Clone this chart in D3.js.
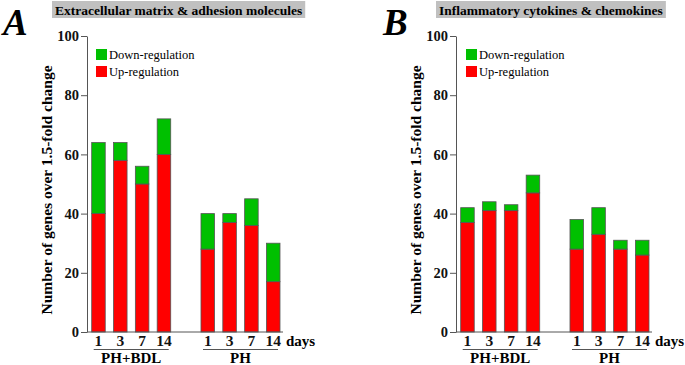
<!DOCTYPE html>
<html>
<head>
<meta charset="utf-8">
<script src="https://cdn.jsdelivr.net/npm/d3@7"></script>
<style>
    body { margin: 0; background: #fff; }
</style>
</head>
<body>
<div id="chart"></div>
<script>
// ---- data ----
const days = ["1", "3", "7", "14"];
const groups = ["PH+BDL", "PH"];
const seriesNames = ["Down-regulation", "Up-regulation"];
const yTicks = [0, 20, 40, 60, 80, 100];

// panel A : extracellular matrix & adhesion molecules (PH+BDL 1,3,7,14 then PH 1,3,7,14)
const ecmUp = [40, 58, 50, 60, 28, 37, 36, 17];
const ecmDown = [24, 6, 6, 12, 12, 3, 9, 13];

// panel B : inflammatory cytokines & chemokines
const inflUp = [37, 41, 41, 47, 28, 33, 28, 26];
const inflDown = [5, 3, 2, 6, 10, 9, 3, 5];

const colors = { up: "#ff0000", down: "#00c000" };
const FONT = "'Liberation Serif', 'Times New Roman', Times, serif";

const svg = d3.select("#chart").append("svg")
    .attr("width", 685)
    .attr("height", 365)
    .style("font-family", FONT);

function drawPanel(opts) {
    let g = svg.append("g").attr("transform", "translate(" + opts.left + ",0)");

    let y0 = 332, yTop = 36;

    let y = d3.scaleLinear().domain([0, 100]).range([y0, yTop]);

    // outer scale for the two treatment groups, inner for the days
    let x0 = d3.scaleBand().domain(groups).range([4.7, 193]).paddingInner(0.277).paddingOuter(0);
    let x1 = d3.scaleBand().domain(days).range([0, x0.bandwidth()]).paddingInner(0.38).paddingOuter(0);

    // rows for stacking
    let rows = [];
    groups.forEach((grp, gi) => {
        days.forEach((d, di) => {
            let i = gi * days.length + di;
            rows.push({ group: grp, day: d, up: opts.up[i], down: opts.down[i] });
        });
    });
    let stack = d3.stack().keys(["up", "down"])(rows);

    // panel letter
    g.append("text")
        .attr("x", opts.letterX)
        .attr("y", 35)
        .style("font-size", "37px")
        .style("font-weight", "bold")
        .style("font-style", "italic")
        .text(opts.letter);

    // title with grey box
    let title = g.append("g");
    let titleText = title.append("text")
        .attr("x", opts.titleX + 3)
        .attr("y", 14.5)
        .style("font-size", "13.5px")
        .style("font-weight", "bold")
        .text(opts.title);
    let tw = titleText.node().getComputedTextLength();
    title.insert("rect", "text")
        .attr("x", opts.titleX)
        .attr("y", 1)
        .attr("width", tw + 6)
        .attr("height", 17)
        .attr("fill", "#c0c0c0");

    // y axis
    let yAxis = g.append("g")
        .call(d3.axisLeft(y).tickValues(yTicks).tickSize(6).tickSizeOuter(0).tickPadding(2))
        .attr("font-family", null);
    yAxis.selectAll("path, line").attr("stroke", "#555");
    yAxis.selectAll("text")
        .style("font-size", "14.5px")
        .style("font-weight", "bold")
        .attr("fill", "#111");

    // y title
    g.append("text")
        .attr("transform", "translate(-35," + 190 + ") rotate(-90)")
        .attr("text-anchor", "middle")
        .style("font-size", "15.5px")
        .style("font-weight", "bold")
        .text("Number of genes over 1.5-fold change");

    // bars
    g.selectAll(".layer")
        .data(stack)
        .join("g")
        .attr("class", "layer")
        .attr("fill", d => d.key === "up" ? colors.up : colors.down)
        .selectAll("rect")
        .data(d => d)
        .join("rect")
        .attr("x", d => x0(d.data.group) + x1(d.data.day))
        .attr("y", d => y(d[1]))
        .attr("width", x1.bandwidth())
        .attr("height", d => y(d[0]) - y(d[1]))
        .attr("stroke", "#555")
        .attr("stroke-width", 0.8);

    // x base line
    g.append("line")
        .attr("x1", 0).attr("x2", 196)
        .attr("y1", y0).attr("y2", y0)
        .attr("stroke", "#555");

    // day labels per group
    groups.forEach(grp => {
        let gx = g.append("g")
            .attr("transform", "translate(" + x0(grp) + "," + y0 + ")")
            .call(d3.axisBottom(x1).tickSize(0).tickPadding(3))
            .attr("font-family", null);
        gx.select(".domain").remove();
        gx.selectAll("text")
            .style("font-size", "15.5px")
            .style("font-weight", "bold")
            .attr("fill", "#111");

        g.append("line")
            .attr("x1", x0(grp) + 2)
            .attr("x2", x0(grp) + x0.bandwidth() - 2)
            .attr("y1", 349.5).attr("y2", 349.5)
            .attr("stroke", "#555");

        g.append("text")
            .attr("x", x0(grp) + x0.bandwidth() / 2)
            .attr("y", 363)
            .attr("text-anchor", "middle")
            .style("font-size", "15px")
            .style("font-weight", "bold")
            .text(grp);
    });

    g.append("text")
        .attr("x", 199)
        .attr("y", 346)
        .style("font-size", "15px")
        .style("font-weight", "bold")
        .text("days");

    // legend
    let legend = g.selectAll(".legend")
        .data(seriesNames)
        .join("g")
        .attr("class", "legend")
        .attr("transform", (d, i) => "translate(" + opts.legendX + "," + (49 + i * 17) + ")");
    legend.append("rect")
        .attr("width", 11).attr("height", 11)
        .attr("fill", d => d.startsWith("Up") ? colors.up : colors.down);
    legend.append("text")
        .attr("x", 13)
        .attr("y", 10)
        .style("font-size", "12.5px")
        .text(d => d);
}

drawPanel({
    left: 87, letter: "A", letterX: -84, title: "Extracellular matrix & adhesion molecules",
    titleX: -35, legendX: 9, up: ecmUp, down: ecmDown
});

drawPanel({
    left: 456, letter: "B", letterX: -73, title: "Inflammatory cytokines & chemokines",
    titleX: -20, legendX: 10, up: inflUp, down: inflDown
});
</script>
</body>
</html>
